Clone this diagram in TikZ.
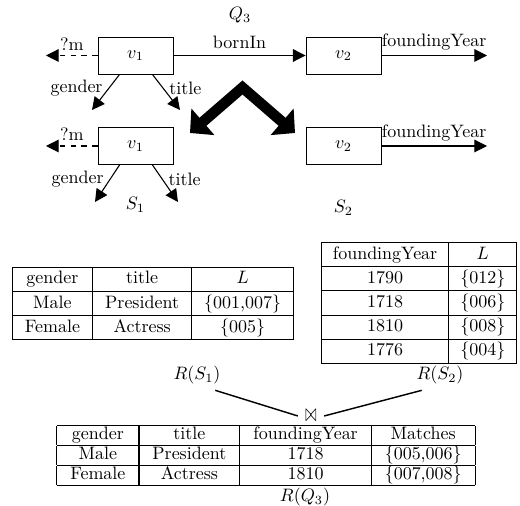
\documentclass[tikz,border=0pt]{standalone}
\usepackage{amssymb}
\usepackage{graphicx}
\usepackage{tikz}
\usetikzlibrary{positioning,arrows.meta}

\begin{document}
\begin{tikzpicture}[
    x=0.556pt, y=-0.556pt,
    var/.style={rectangle, draw=black, line width=0.5pt, minimum width=41.7pt, minimum height=20.6pt, inner sep=0pt},
    edge/.style={-{Triangle[length=7pt,width=7pt]}, semithick},
    optedge/.style={edge, dashed},
    split/.style={{Triangle[length=9.5pt,width=19pt]}-{Triangle[length=9.5pt,width=19pt]}, line width=5.9pt},
    joinline/.style={thick},
    tbl/.style={inner sep=0pt}
]
\useasboundingbox (0,0) rectangle (520,506);

% Query Q3
\node[var] (v1) at (135.5,55.5) {$v_1$};
\node[var] (v2) at (343.5,55.5) {$v_2$};
\coordinate (m1) at (46,55.5);
\coordinate (fy1) at (487,55.5);
\coordinate (g1) at (92,110);
\coordinate (t1) at (180,110);
\node (q3) at (240,15) {$Q_3$};

\draw[edge] (v1) -- (v2) node[midway,above] {bornIn};
\draw[optedge] (v1) -- (m1) node[midway,above,inner sep=2.5pt] {?m};
\draw[edge] (v2) -- (fy1) node[midway,above,inner sep=2.5pt] {foundingYear};
\draw[edge] (v1.south west) ++(22,0) -- (g1) node[pos=0.38,left] {gender};
\draw[edge] (v1.south east) ++(-21,0) -- (t1) node[pos=0.38,right] {title};

% Split into S1 and S2
\coordinate (fork) at (242.5,87.5);
\coordinate (forkl) at (190,133);
\coordinate (forkr) at (295,133);
\draw[split] (forkl) -- (fork) -- (forkr);

% Subqueries S1, S2
\node[var] (v1s) at (135.5,146) {$v_1$};
\node[var] (v2s) at (343.5,146) {$v_2$};
\coordinate (m2) at (46,146);
\coordinate (fy2) at (487,146);
\coordinate (g2) at (95,202);
\coordinate (t2) at (178,202);

\draw[optedge] (v1s) -- (m2) node[midway,above,inner sep=2.5pt] {?m};
\draw[edge] (v2s) -- (fy2) node[midway,above,inner sep=2.5pt] {foundingYear};
\draw[edge] (v1s.south west) ++(22,0) -- (g2) node[pos=0.38,left] {gender};
\draw[edge] (v1s.south east) ++(-21,0) -- (t2) node[pos=0.38,right] {title};

\node (s1) at (135.5,205) {$S_1$};
\node (s2) at (343.5,208) {$S_2$};

% Result tables
\setlength{\arrayrulewidth}{0.6pt}
\node[tbl] (rs1) at (153,303.5) {\renewcommand{\arraystretch}{1.07}\setlength{\tabcolsep}{7pt}%
\begin{tabular}{|c|c|c|}
\hline
gender & title & $L$ \\ \hline
Male & President & \{001,007\} \\ \hline
Female & Actress & \{005\} \\ \hline
\end{tabular}};

\node[tbl] (rs2) at (419,303) {\renewcommand{\arraystretch}{1.07}\setlength{\tabcolsep}{6.4pt}%
\begin{tabular}{|c|c|}
\hline
foundingYear & $L$ \\ \hline
1790 & \{012\} \\ \hline
1718 & \{006\} \\ \hline
1810 & \{008\} \\ \hline
1776 & \{004\} \\ \hline
\end{tabular}};

\node (lrs1) at (197,375) {$R(S_1)$};
\node (lrs2) at (440,375) {$R(S_2)$};
\node[inner sep=0pt] (bowtie) at (311,416) {\resizebox{6.2pt}{6.5pt}{$\bowtie$}};

\draw[joinline] (lrs1.-40) -- ([xshift=-4pt]bowtie.west);
\draw[joinline] (lrs2.-140) -- ([xshift=4pt]bowtie.east);

\node[tbl] (rq3) at (266,455.5) {\renewcommand{\arraystretch}{0.88}\setlength{\tabcolsep}{7.5pt}%
\begin{tabular}{|c|c|c|c|}
\hline
gender & title & foundingYear & Matches \\ \hline
Male & President & 1718 & \{005,006\} \\ \hline
Female & Actress & 1810 & \{007,008\} \\ \hline
\end{tabular}};
\node (lrq3) at (305,497) {$R(Q_3)$};

\end{tikzpicture}
\end{document}
